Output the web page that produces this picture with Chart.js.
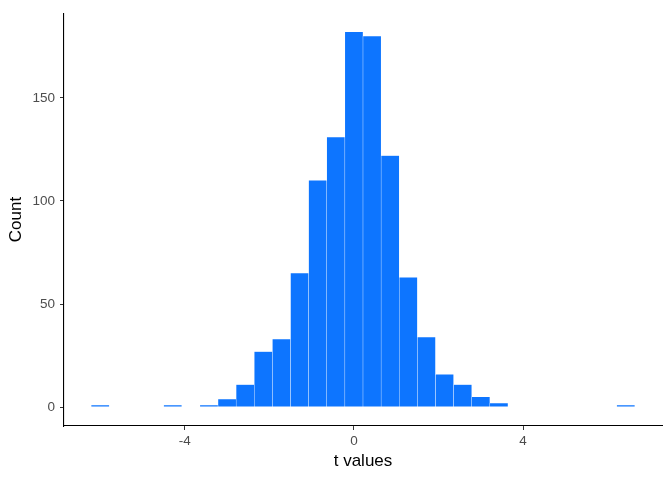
<!DOCTYPE html>
<html>
<head>
<meta charset="utf-8">
<script src="https://cdn.jsdelivr.net/npm/chart.js@4/dist/chart.umd.min.js"></script>
<style>
  html, body { margin: 0; padding: 0; background: #ffffff; }
  #wrap { width: 672px; height: 480px; position: relative; }
</style>
</head>
<body>
<div id="wrap"><canvas id="c"></canvas></div>
<script>
// Histogram of t values: 30 bins, width ~0.4287, centred on multiples of the bin width
const binWidth = 0.4287;
const binIndex = [-14,-13,-12,-11,-10,-9,-8,-7,-6,-5,-4,-3,-2,-1,0,1,2,3,4,5,6,7,8,9,10,11,12,13,14,15];
const counts   = [  1,  0,  0,  0,  1,  0,  1,  4, 11, 27, 33, 65,110,131,182,180,122, 63, 34, 16, 11,  5,  2,  0,  0,  0,  0,  0,  0,  1];
const xTicks = [-4, 0, 4];
const yTicks = [0, 50, 100, 150];
const xTitle = 't values';
const yTitle = 'Count';

const binCenters = binIndex.map(k => k * binWidth);
const points = binCenters.map((x, i) => ({ x: x, y: counts[i] }));

const xMinData = binCenters[0] - binWidth / 2;
const xMaxData = binCenters[binCenters.length - 1] + binWidth / 2;
const xPad = (xMaxData - xMinData) * 0.05;
const yMaxData = Math.max(...counts);
const yPad = yMaxData * 0.05;

const FONT = '"Liberation Sans", Arial, Helvetica, sans-serif';

new Chart(document.getElementById('c'), {
  type: 'bar',
  data: {
    datasets: [{
      data: points,
      backgroundColor: '#0D75FF',
      borderColor: 'rgba(255,255,255,0.45)',
      borderWidth: 0.5,
      borderSkipped: false,
      barPercentage: 1,
      categoryPercentage: 1,
      grouped: false
    }]
  },
  options: {
    responsive: true,
    maintainAspectRatio: false,
    animation: false,
    devicePixelRatio: 1,
    layout: { padding: { left: 0, right: 10, top: 10, bottom: 0 } },
    plugins: { legend: { display: false }, tooltip: { enabled: false } },
    scales: {
      x: {
        type: 'linear',
        offset: false,
        min: xMinData - xPad,
        max: xMaxData + xPad,
        afterBuildTicks: s => { s.ticks = xTicks.map(v => ({ value: v })); },
        afterFit: s => { s.height = 54; },
        ticks: { color: '#4D4D4D', font: { family: FONT, size: 13.5 }, padding: 3, maxRotation: 0,
                 callback: v => String(v) },
        grid: { display: true, offset: false, drawOnChartArea: false, drawTicks: true, tickLength: 4, color: '#333333', lineWidth: 1 },
        border: { display: true, color: '#000000', width: 1.1 },
        title: { display: true, text: xTitle, color: '#000000', font: { family: FONT, size: 17 }, padding: { top: 0, bottom: 8 } }
      },
      y: {
        type: 'linear',
        min: -yPad,
        max: yMaxData + yPad,
        afterBuildTicks: s => { s.ticks = yTicks.map(v => ({ value: v })); },
        afterFit: s => { s.width = 64; },
        ticks: { color: '#4D4D4D', font: { family: FONT, size: 13.5 }, padding: 5 },
        grid: { display: true, drawOnChartArea: false, drawTicks: true, tickLength: 4, color: '#333333', lineWidth: 1 },
        border: { display: true, color: '#000000', width: 1.1 },
        title: { display: true, text: yTitle, color: '#000000', font: { family: FONT, size: 17 }, padding: { top: 6, bottom: 0 } }
      }
    }
  }
});
</script>
</body>
</html>
